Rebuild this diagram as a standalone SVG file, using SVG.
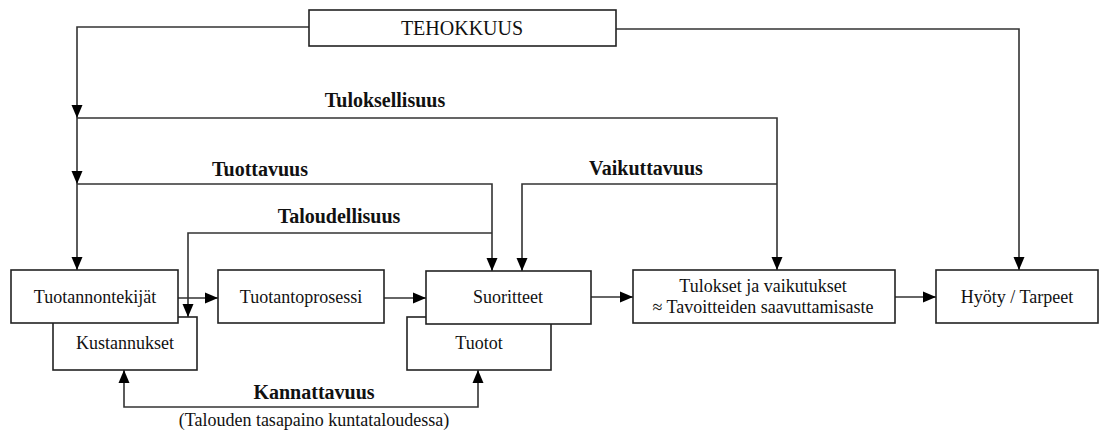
<svg xmlns="http://www.w3.org/2000/svg" width="1100" height="434" viewBox="0 0 1100 434">
  <style>
    .box { fill: #ffffff; stroke: #222222; stroke-width: 1.6; }
    .lbl { font-family: "Liberation Serif", "Times New Roman", serif; font-size: 18px; fill: #111111; text-anchor: middle; }
    .big { font-size: 20px; }
    .bold { font-family: "Liberation Serif", "Times New Roman", serif; font-size: 20px; font-weight: bold; fill: #111111; text-anchor: middle; }
    .wire { fill: none; stroke: #333333; stroke-width: 1.6; }
    .arr { marker-end: url(#head); }
  </style>
  <defs>
    <marker id="head" markerUnits="userSpaceOnUse" markerWidth="14" markerHeight="14" viewBox="0 0 14 14" refX="13" refY="7" orient="auto-start-reverse">
      <path d="M0,1.5 L13,7 L0,12.5 Z" fill="#000000"/>
    </marker>
  </defs>

  <rect width="1100" height="434" fill="#ffffff"/>

  <!-- connectors -->
  <g id="connectors">
    <!-- efficiency feed, left branch -->
    <path class="wire arr" d="M309,27 H77 V118"/>
    <path class="wire arr" d="M77,118 V184"/>
    <path class="wire arr" d="M77,184 V270"/>
    <!-- efficiency feed, right branch -->
    <path class="wire arr" d="M616,29 H1019 V270"/>
    <!-- Tuloksellisuus -->
    <path class="wire arr" d="M77,118 H777 V270"/>
    <!-- Tuottavuus -->
    <path class="wire arr" d="M77,184 H492 V271"/>
    <!-- Vaikuttavuus -->
    <path class="wire arr" d="M777,184 H522 V271"/>
    <!-- Taloudellisuus -->
    <path class="wire arr" d="M492,233 H188 V317"/>
    <!-- Kannattavuus -->
    <path class="wire" d="M124,370 V407 H478 V370" marker-start="url(#head)" marker-end="url(#head)"/>
    <!-- main process chain -->
    <path class="wire arr" d="M178,298 H218"/>
    <path class="wire arr" d="M384,298 H426"/>
    <path class="wire arr" d="M591,297 H633"/>
    <path class="wire arr" d="M895,297 H936"/>
  </g>

  <!-- edge labels -->
  <g id="labels">
    <text class="bold" x="385" y="107">Tuloksellisuus</text>
    <text class="bold" x="260" y="176">Tuottavuus</text>
    <text class="bold" x="646" y="175">Vaikuttavuus</text>
    <text class="bold" x="339" y="223">Taloudellisuus</text>
    <text class="bold" x="314" y="399">Kannattavuus</text>
    <text class="lbl" x="314" y="426">(Talouden tasapaino kuntataloudessa)</text>
  </g>

  <g id="tehokkuus">
    <rect class="box" x="309" y="10" width="307" height="36"/>
    <text class="lbl big" x="462" y="35">TEHOKKUUS</text>
  </g>

  <g id="kustannukset">
    <rect class="box" x="53" y="317" width="144" height="53"/>
    <text class="lbl" x="125" y="349">Kustannukset</text>
  </g>

  <g id="tuotannontekijat">
    <rect class="box" x="11" y="270" width="167" height="53"/>
    <text class="lbl" x="95" y="303">Tuotannontekijät</text>
  </g>

  <g id="tuotantoprosessi">
    <rect class="box" x="218" y="270" width="166" height="53"/>
    <text class="lbl" x="301" y="303">Tuotantoprosessi</text>
  </g>

  <g id="tuotot">
    <rect class="box" x="407" y="317" width="144" height="53"/>
    <text class="lbl" x="479" y="349">Tuotot</text>
  </g>

  <g id="suoritteet">
    <rect class="box" x="426" y="271" width="165" height="53"/>
    <text class="lbl" x="508" y="303">Suoritteet</text>
  </g>

  <g id="tulokset">
    <rect class="box" x="633" y="270" width="262" height="53"/>
    <text class="lbl" x="763" y="292">Tulokset ja vaikutukset</text>
    <text class="lbl" x="763" y="313">≈ Tavoitteiden saavuttamisaste</text>
  </g>

  <g id="hyoty">
    <rect class="box" x="936" y="270" width="162" height="53"/>
    <text class="lbl" x="1017" y="303">Hyöty / Tarpeet</text>
  </g>
</svg>
